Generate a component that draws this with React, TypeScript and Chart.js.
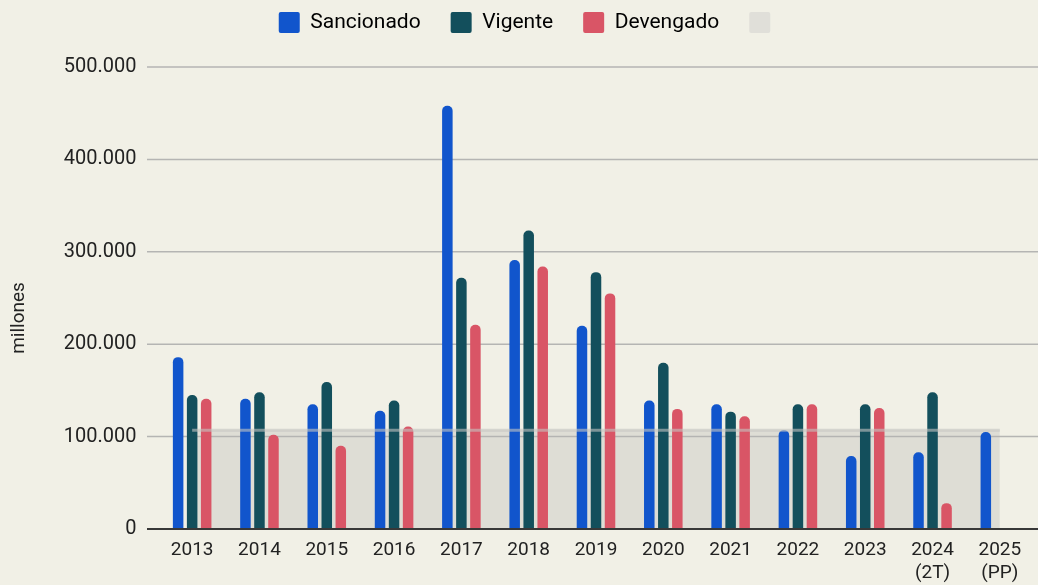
import React, { useEffect, useRef } from 'react';
import { Chart, registerables } from 'chart.js';

Chart.register(...registerables);

const categories: (string | string[])[] = [
  '2013', '2014', '2015', '2016', '2017', '2018', '2019', '2020', '2021', '2022', '2023',
  ['2024', '(2T)'], ['2025', '(PP)'],
];
const sancionado = [186000, 141000, 135000, 128000, 458000, 291000, 220000, 139000, 135000, 107000, 79000, 83000, 105000];
const vigente = [145000, 148000, 159000, 139000, 272000, 323000, 278000, 180000, 127000, 135000, 135000, 148000, null];
const devengado = [141000, 102000, 90000, 111000, 221000, 284000, 255000, 130000, 122000, 135000, 131000, 28000, null];
const referencia = [107000, 107000, 107000, 107000, 107000, 107000, 107000, 107000, 107000, 107000, 107000, 107000, 107000];
const seriesNames = ['Sancionado', 'Vigente', 'Devengado', ''];
const yMin = 0;
const yMax = 500000;
const yStep = 100000;
const yTitle = 'millones';

const BG = '#f1f0e6';
const BLUE = '#1155cc';
const TEAL = '#134f5c';
const RED = '#d95566';
const AREA_LEGEND = '#e0dfd9';
const FONT = 'Roboto, "Noto Sans", sans-serif';

const fmt = (v: number) => String(v).replace(/\B(?=(\d{3})+(?!\d))/g, '.');

const legendPatch = {
  id: 'legendPatch',
  afterInit(chart: any) {
    const lg = chart.legend;
    if (!lg || lg.__patched) return;
    lg.__patched = true;
    const origFit = lg.fit;
    lg.fit = function (this: any) {
      origFit.call(this);
      this.height = 67;
    };
    const origDraw = lg.draw;
    lg.draw = function (this: any, area: any) {
      const ctx = this.ctx;
      ctx.save();
      ctx.translate(13, -18);
      origDraw.call(this, area);
      ctx.restore();
    };
  },
};

const gridPlugin = {
  id: 'gridPlugin',
  beforeDraw(chart: any) {
    const { ctx } = chart;
    const y = chart.scales.y;
    ctx.save();
    ctx.strokeStyle = '#b5b5b3';
    ctx.lineWidth = 1.5;
    for (let v = yMin + yStep; v <= yMax; v += yStep) {
      const py = y.getPixelForValue(v);
      ctx.beginPath();
      ctx.moveTo(147, py);
      ctx.lineTo(chart.width, py);
      ctx.stroke();
    }
    ctx.restore();
  },
  afterDatasetsDraw(chart: any) {
    const { ctx } = chart;
    const y = chart.scales.y;
    const py = y.getPixelForValue(0);
    ctx.save();
    ctx.strokeStyle = '#383838';
    ctx.lineWidth = 2;
    ctx.beginPath();
    ctx.moveTo(147, py);
    ctx.lineTo(chart.width, py);
    ctx.stroke();
    ctx.restore();
  },
  afterDraw(chart: any) {
    const { ctx } = chart;
    ctx.save();
    ctx.translate(19, 318);
    ctx.rotate(-Math.PI / 2);
    ctx.font = `19px ${FONT}`;
    ctx.fillStyle = '#222222';
    ctx.textAlign = 'center';
    ctx.textBaseline = 'middle';
    ctx.fillText(yTitle, 0, 0);
    ctx.restore();
  },
};

export default function App() {
  const ref = useRef<HTMLCanvasElement | null>(null);

  useEffect(() => {
    document.body.style.margin = '0';
    document.body.style.background = BG;
    if (!ref.current) return;
    const barCommon = {
      type: 'bar' as const,
      barPercentage: 0.75,
      categoryPercentage: 0.625,
      borderRadius: 5,
      borderSkipped: 'start' as const,
    };
    const chart = new Chart(ref.current, {
      type: 'bar',
      data: {
        labels: categories as any,
        datasets: [
          { ...barCommon, label: seriesNames[0], data: sancionado, backgroundColor: BLUE, order: 1 },
          { ...barCommon, label: seriesNames[1], data: vigente as any, backgroundColor: TEAL, order: 2 },
          { ...barCommon, label: seriesNames[2], data: devengado as any, backgroundColor: RED, order: 3 },
          {
            type: 'line' as const,
            label: seriesNames[3],
            data: referencia,
            fill: 'origin',
            backgroundColor: 'rgba(180,180,175,0.3)',
            borderColor: 'rgba(195,195,192,0.6)',
            borderWidth: 3,
            pointRadius: 0,
            pointHoverRadius: 0,
            tension: 0,
            order: 0,
          } as any,
        ],
      },
      options: {
        animation: false,
        responsive: true,
        maintainAspectRatio: false,
        layout: { padding: { top: 0, left: 0, right: 4.5, bottom: 0 } },
        plugins: {
          filler: { drawTime: 'beforeDatasetsDraw' },
          tooltip: { enabled: false },
          legend: {
            position: 'top',
            align: 'center',
            labels: {
              boxWidth: 21,
              boxHeight: 21,
              padding: 30,
              useBorderRadius: true,
              borderRadius: 2,
              color: '#222222',
              font: { family: FONT, size: 21 },
              generateLabels: (chart: any) =>
                chart.data.datasets.map((ds: any, i: number) => ({
                  text: ds.label,
                  fillStyle: i === 3 ? AREA_LEGEND : ds.backgroundColor,
                  strokeStyle: i === 3 ? AREA_LEGEND : ds.backgroundColor,
                  lineWidth: 0,
                  hidden: false,
                  datasetIndex: i,
                  borderRadius: 2,
                })),
            },
          },
        } as any,
        scales: {
          x: {
            offset: true,
            grid: { display: false, drawTicks: false },
            border: { display: false },
            ticks: {
              padding: 10,
              color: '#222222',
              font: { family: FONT, size: 19 },
              maxRotation: 0,
              autoSkip: false,
            },
            afterFit: (scale: any) => {
              scale.height = 56;
            },
          },
          y: {
            min: yMin,
            max: yMax,
            grid: { display: false, drawTicks: false },
            border: { display: false },
            ticks: {
              stepSize: yStep,
              padding: 22,
              color: '#222222',
              font: { family: FONT, size: 20 },
              callback: (v: any) => fmt(Number(v)),
            },
            afterFit: (scale: any) => {
              scale.width = 158.5;
            },
          },
        },
      },
      plugins: [legendPatch, gridPlugin],
    });
    return () => chart.destroy();
  }, []);

  return (
    <div style={{ width: 1038, height: 585, background: BG, position: 'relative' }}>
      <canvas ref={ref} />
    </div>
  );
}
